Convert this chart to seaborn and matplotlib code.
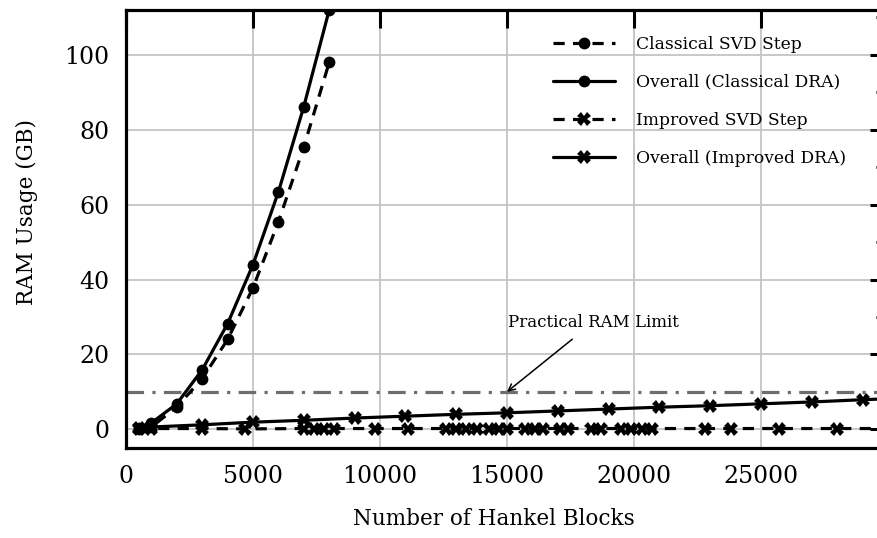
import matplotlib
matplotlib.use("Agg")
import matplotlib.pyplot as plt
import seaborn as sns
import pandas as pd

# Classical DRA memory measurements (GB)
classical_blocks = [500, 1000, 2000, 3000, 4000, 5000, 6000, 7000, 8000]
classical_svd = [0.2, 0.6, 6.0, 13.5, 24.0, 37.8, 55.4, 75.4, 98.0]
classical_overall = [0.3, 1.7, 6.8, 15.9, 28.2, 44.0, 63.4, 86.2, 112.0]

# Improved DRA: SVD step memory (GB)
improved_svd_blocks = [500, 1000, 3000, 4700, 7000, 7400, 7800, 8200, 9800,
                       11100, 12600, 13000, 13400, 13800, 14300, 14700, 15000,
                       15700, 16100, 16400, 17100, 17400, 18300, 18700, 19500,
                       19900, 20300, 20700, 22800, 23800, 25700, 28000, 31000]
improved_svd = [0.2, 0.2, 0.2, 0.1, 0.2, 0.2, 0.2, 0.2, 0.2,
                0.2, 0.2, 0.2, 0.2, 0.2, 0.2, 0.2, 0.2,
                0.2, 0.2, 0.2, 0.2, 0.2, 0.2, 0.2, 0.2,
                0.2, 0.2, 0.2, 0.2, 0.2, 0.2, 0.2, 0.2]

# Improved DRA: overall memory (GB)
improved_overall_blocks = [500, 1000, 3000, 5000, 7000, 9000, 11000, 13000, 15000,
                           17000, 19000, 21000, 23000, 25000, 27000, 29000, 31000]
improved_overall = [0.3, 0.6, 1.2, 1.9, 2.4, 3.0, 3.5, 4.0, 4.4,
                    4.9, 5.4, 5.9, 6.3, 6.8, 7.3, 7.9, 8.4]

RAM_LIMIT = 10
x_ticks = [0, 5000, 10000, 15000, 20000, 25000]
y_ticks = [0, 20, 40, 60, 80, 100]

sns.set_style("white")
plt.rcParams["font.family"] = ["DejaVu Serif"]
plt.rcParams["mathtext.fontset"] = "dejavuserif"
for key in ("text.color", "axes.labelcolor", "xtick.color", "ytick.color"):
    plt.rcParams[key] = "black"

fig = plt.figure(figsize=(8.77, 5.38), dpi=100)
W, H = 877, 538
AX_L, AX_R, AX_T, AX_B = 126, 888, 10, 448
ax = fig.add_axes([AX_L / W, (H - AX_B) / H, (AX_R - AX_L) / W, (AX_B - AX_T) / H])

df_cs = pd.DataFrame({"blocks": classical_blocks, "ram": classical_svd})
df_co = pd.DataFrame({"blocks": classical_blocks, "ram": classical_overall})
df_is = pd.DataFrame({"blocks": improved_svd_blocks, "ram": improved_svd})
df_io = pd.DataFrame({"blocks": improved_overall_blocks, "ram": improved_overall})

lw = 2.3
common = dict(x="blocks", y="ram", color="black", errorbar=None, ax=ax,
              linewidth=lw, markeredgewidth=0)
sns.lineplot(data=df_cs, label="Classical SVD Step", linestyle=(0, (3.5, 2.6)),
             marker="o", markersize=8.5, **common)
sns.lineplot(data=df_co, label="Overall (Classical DRA)", linestyle="-",
             marker="o", markersize=8.5, **common)
sns.lineplot(data=df_is, label="Improved SVD Step", linestyle=(0, (3.5, 2.6)),
             marker="X", markersize=10, **common)
sns.lineplot(data=df_io, label="Overall (Improved DRA)", linestyle="-",
             marker="X", markersize=10, **common)

ax.axhline(RAM_LIMIT, color="#6e6e6e", lw=2.3, linestyle=(0, (5.5, 2.6, 1, 2.6)),
           zorder=1.5)
ax.annotate("Practical RAM Limit", xy=(15000, RAM_LIMIT), xytext=(18400, 28.6),
            ha="center", va="center", fontsize=12,
            arrowprops=dict(arrowstyle="->", color="black", lw=1.1,
                            shrinkA=6, shrinkB=0))

ax.set_xlim(0, 30000)
ax.set_ylim(-5, 112)
ax.set_xticks(x_ticks)
ax.set_yticks(y_ticks)
ax.set_yticks(range(10, 111, 20), minor=True)
ax.grid(True, which="major", color="#c4c4c4", lw=1.3)
ax.set_axisbelow(True)

ax.tick_params(which="both", direction="in", top=True, right=True,
               width=2.2, color="black", labelsize=17, pad=12)
ax.tick_params(which="major", length=13)
ax.tick_params(which="minor", length=8.5)
for s in ax.spines.values():
    s.set_linewidth(2.3)
    s.set_color("black")

ax.set_xlabel("Number of Hankel Blocks", fontsize=15.5)
ax.set_ylabel("RAM Usage (GB)", fontsize=15.5)
ax.xaxis.set_label_coords((493.5 - AX_L) / (AX_R - AX_L), (AX_B - 508) / (AX_B - AX_T))
ax.yaxis.set_label_coords((38 - AX_L) / (AX_R - AX_L), (AX_B - 212) / (AX_B - AX_T))

ax.legend(loc="upper left",
          bbox_to_anchor=((553 - AX_L) / (AX_R - AX_L), (AX_B - 36) / (AX_B - AX_T)),
          frameon=False, borderpad=0, borderaxespad=0, handlelength=3.6,
          handletextpad=1.25, labelspacing=1.22, fontsize=12.3)

fig.savefig("out.png", dpi=100)
